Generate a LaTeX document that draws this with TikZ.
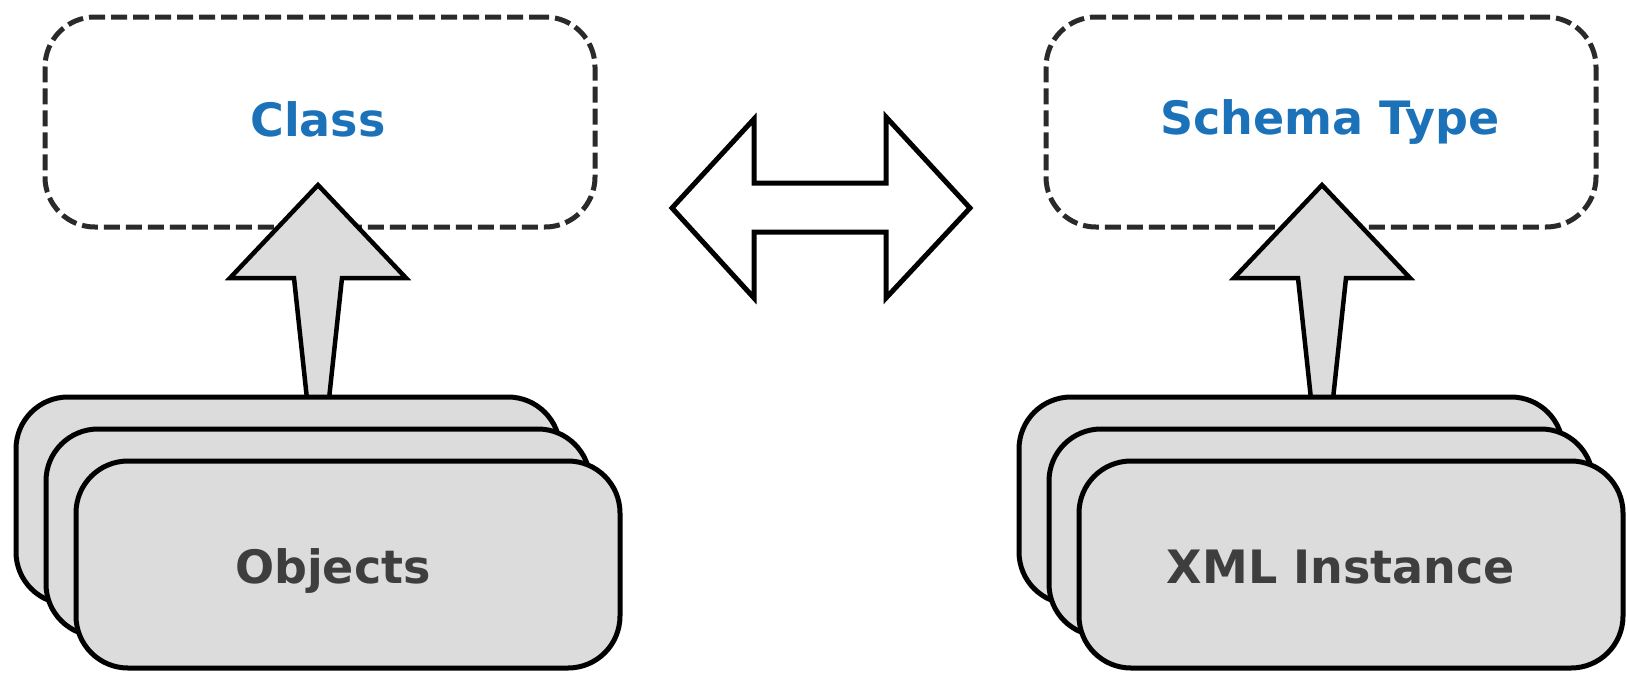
\documentclass[tikz,border=0pt]{standalone}
\usepackage{fontspec}
\setmainfont{DejaVu Sans}
\definecolor{classblue}{HTML}{1B72B8}
\definecolor{boxfill}{HTML}{DCDCDC}
\definecolor{txtgray}{HTML}{3E3E3E}
\definecolor{dashcol}{HTML}{2A2A2A}
\begin{document}
\begin{tikzpicture}[x=1pt,y=-1pt,
  dashbox/.style={draw=dashcol, line width=5pt, dash pattern=on 16pt off 6pt, rounded corners=50pt,
    minimum width=550pt, minimum height=210pt, inner sep=0pt},
  stackbox/.style={draw=black, fill=boxfill, line width=5pt, rounded corners=52pt,
    minimum width=544pt, minimum height=207pt, inner sep=0pt},
  typetext/.style={anchor=base, text=classblue, font=\fontsize{46}{55}\selectfont\bfseries, inner sep=0pt},
  insttext/.style={anchor=base, text=txtgray, font=\fontsize{46}{55}\selectfont\bfseries, inner sep=0pt},
  blockarrow/.style={draw=black, fill=boxfill, line width=4.5pt, line join=miter},
  dblarrow/.style={draw=black, fill=white, line width=5pt, line join=miter}]
\useasboundingbox (0,0) rectangle (1627,672);
% dashed type boxes
\node[dashbox] (class) at (320,122) {};
\node[dashbox] (schema) at (1321,122) {};
\node[typetext] (classlbl) at (318,136) {Class};
\node[typetext] (schemalbl) at (1330,134) {Schema Type};
% up arrows
\draw[blockarrow, shift={(318,0)}] (0,185) -- (88,278) -- (24,278) -- (11,399) -- (-11,399) -- (-24,278) -- (-88,278) -- cycle;
\draw[blockarrow, shift={(1322,0)}] (0,185) -- (88,278) -- (24,278) -- (11,399) -- (-11,399) -- (-24,278) -- (-88,278) -- cycle;
% left stack
\node[stackbox] (objback) at (288,500.5) {};
\node[stackbox] (objmid) at (318,532.5) {};
\node[stackbox] (objfront) at (348,564.5) {};
\node[insttext] (objlbl) at (333,583) {Objects};
% right stack
\node[stackbox] (xmlback) at (1291,500.5) {};
\node[stackbox] (xmlmid) at (1321,532.5) {};
\node[stackbox] (xmlfront) at (1351,564.5) {};
\node[insttext] (xmllbl) at (1341,583) {XML Instance};
% double arrow
\draw[dblarrow] (672,208) -- (754,119) -- (754,183) -- (886,183) -- (886,117) -- (970,208)
  -- (886,298) -- (886,232) -- (754,232) -- (754,298) -- cycle;
\end{tikzpicture}
\end{document}
